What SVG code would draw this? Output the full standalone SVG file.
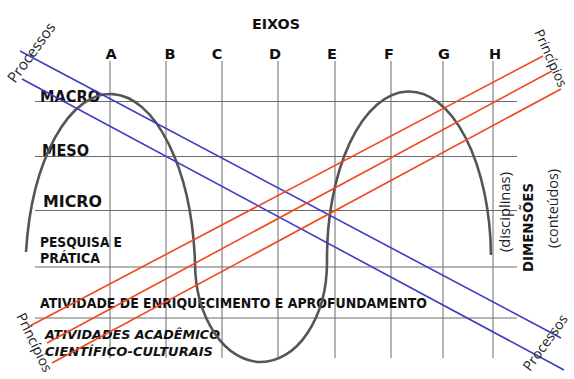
<svg xmlns="http://www.w3.org/2000/svg" width="574" height="379" viewBox="0 0 574 379">
<style>
.grid{stroke:#6a6a6a;stroke-width:1;fill:none}
.curve{stroke:#555;stroke-width:2.6;fill:none}
.blue{stroke:#3b3bc6;stroke-width:1.6}
.orange{stroke:#f2461f;stroke-width:1.6}
.b{font-family:"DejaVu Sans","Liberation Sans",sans-serif;font-weight:bold;fill:#111}
.r{font-family:"Open Sans","DejaVu Sans",sans-serif;fill:#222}
.col{font-size:14.5px;text-anchor:middle}
</style>
<rect width="574" height="379" fill="#fff"/>
<g id="grid" class="grid">
<line x1="110" y1="61" x2="110" y2="358"/>
<line x1="166" y1="61" x2="166" y2="358"/>
<line x1="222" y1="61" x2="222" y2="358"/>
<line x1="278" y1="61" x2="278" y2="358"/>
<line x1="335" y1="61" x2="335" y2="358"/>
<line x1="391" y1="61" x2="391" y2="358"/>
<line x1="443" y1="61" x2="443" y2="358"/>
<line x1="493" y1="61" x2="493" y2="358"/>
<line x1="35" y1="101.5" x2="517" y2="101.5"/>
<line x1="35" y1="156.5" x2="517" y2="156.5"/>
<line x1="35" y1="210.5" x2="517" y2="210.5"/>
<line x1="35" y1="267" x2="517" y2="267"/>
<line x1="35" y1="318" x2="517" y2="318"/>
</g>
<g id="axis-labels" class="b">
<text x="252" y="29" font-size="14.3">EIXOS</text>
<text class="col" x="111" y="58.5">A</text>
<text class="col" x="170" y="58.5">B</text>
<text class="col" x="217" y="58.5">C</text>
<text class="col" x="275" y="58.5">D</text>
<text class="col" x="332" y="58.5">E</text>
<text class="col" x="389" y="58.5">F</text>
<text class="col" x="444" y="58.5">G</text>
<text class="col" x="495" y="58.5">H</text>
</g>
<g id="row-labels" class="b">
<text x="40" y="101.5" font-size="16" textLength="60" lengthAdjust="spacingAndGlyphs">MACRO</text>
<text x="42" y="156" font-size="16" textLength="47" lengthAdjust="spacingAndGlyphs">MESO</text>
<text x="43" y="206.5" font-size="16" textLength="59" lengthAdjust="spacingAndGlyphs">MICRO</text>
<text x="40" y="247" font-size="13.5" textLength="82" lengthAdjust="spacingAndGlyphs">PESQUISA E</text>
<text x="40" y="263" font-size="13.5" textLength="60" lengthAdjust="spacingAndGlyphs">PRÁTICA</text>
<text x="40" y="308" font-size="13.7" textLength="387" lengthAdjust="spacingAndGlyphs">ATIVIDADE DE ENRIQUECIMENTO E APROFUNDAMENTO</text>
<text x="45" y="339" font-size="13" font-style="italic" textLength="175" lengthAdjust="spacingAndGlyphs">ATIVIDADES ACADÊMICO</text>
<text x="45" y="356" font-size="13" font-style="italic" textLength="168" lengthAdjust="spacingAndGlyphs">CIENTÍFICO-CULTURAIS</text>
</g>
<g id="dimension-labels">
<text class="r" font-size="14" transform="translate(510,252) rotate(-90)" textLength="80" lengthAdjust="spacingAndGlyphs">(disciplinas)</text>
<text class="b" font-size="13.5" transform="translate(533,272) rotate(-90)" textLength="89" lengthAdjust="spacingAndGlyphs">DIMENSÕES</text>
<text class="r" font-size="14" transform="translate(558,248) rotate(-90)" textLength="79" lengthAdjust="spacingAndGlyphs">(conteúdos)</text>
</g>
<g id="wave">
<path class="curve" d="M 26 252 A 85 182 0 0 1 195 262 A 66 100 0 0 0 327 262 A 82 167 0 0 1 491 255"/>
</g>
<g id="connectors">
<line class="blue" x1="20" y1="51" x2="561" y2="338"/>
<line class="blue" x1="22" y1="79" x2="564" y2="370"/>
<line class="orange" x1="28" y1="327" x2="543" y2="56"/>
<line class="orange" x1="47" y1="343" x2="552" y2="71"/>
<line class="orange" x1="52" y1="363" x2="561" y2="89"/>
</g>
<g id="line-labels" class="r" font-size="14">
<text transform="translate(15,84) rotate(-54)" font-size="15">Processos</text>
<text transform="translate(530,372) rotate(-54)">Processos</text>
<text transform="translate(534,32) rotate(66)" font-size="13.5">Princípios</text>
<text transform="translate(16,316) rotate(64)">Princípios</text>
</g>
</svg>
